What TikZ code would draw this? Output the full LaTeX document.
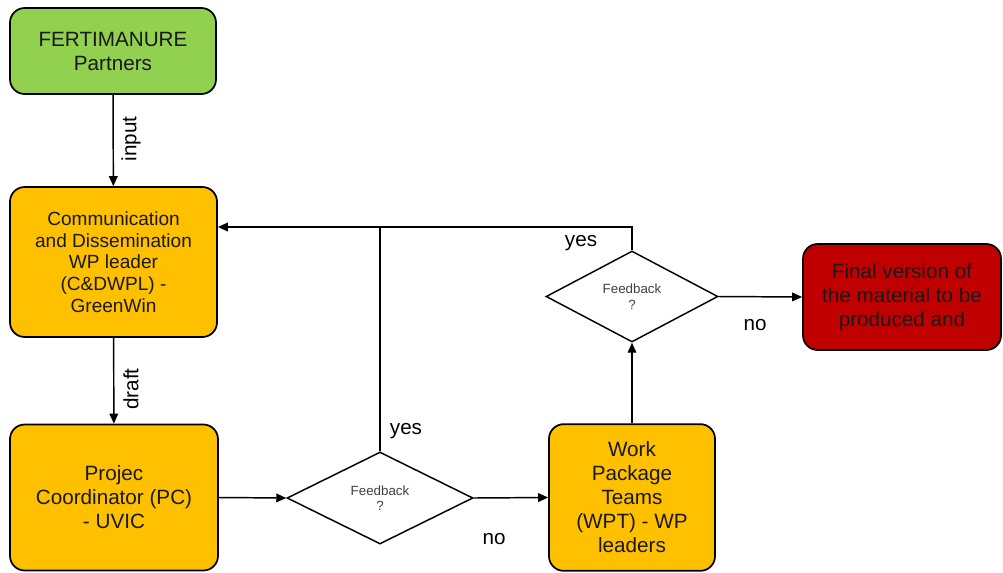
\documentclass[tikz,border=0pt]{standalone}
\usepackage{fontspec}
\setmainfont{Liberation Sans}
\usetikzlibrary{arrows.meta,shapes.geometric}
\definecolor{boxgreen}{HTML}{92D050}
\definecolor{boxorange}{HTML}{FFC000}
\definecolor{boxred}{HTML}{C00000}
\definecolor{txtgray}{HTML}{404040}
\tikzset{
  box/.style={draw=black, line width=1.3pt, rounded corners=11pt, align=center, inner sep=2pt,
    font=\fontsize{15.5}{18}\selectfont, text=black!90},
  dec/.style={draw=black, line width=1.1pt, diamond, inner sep=0pt, align=center,
    font=\fontsize{10}{11.5}\selectfont, text=txtgray},
  conn/.style={line width=1.1pt, draw=black},
  arr/.style={conn, -{Triangle[length=7.5pt,width=6.5pt]}},
  lbl/.style={font=\fontsize{15.5}{18}\selectfont, text=black, inner sep=0pt}
}
\begin{document}
\begin{tikzpicture}[x=0.75pt,y=-0.75pt]
\useasboundingbox (0,0) rectangle (1003,572);
\node[box, fill=boxgreen, minimum width=154.5pt, minimum height=64.5pt] (g) at (113,51) {FERTIMANURE\\Partners};
\node[box, fill=boxorange, minimum width=155.25pt, minimum height=112.5pt,
  font=\fontsize{14.3}{16.3}\selectfont] (cd) at (113.5,262) {Communication\\and Dissemination\\WP leader\\(C\&DWPL) -\\GreenWin};
\node[box, fill=boxorange, minimum width=156pt, minimum height=109.5pt] (pc) at (114,497.5) {Projec\\Coordinator (PC)\\- UVIC};
\node[dec, minimum width=139.5pt, minimum height=69pt] (d1) at (380,498) {Feedback\\?};
\node[box, fill=boxorange, minimum width=124.5pt, minimum height=110pt] (wpt) at (632,497.5) {Work\\Package\\Teams\\(WPT) - WP\\leaders};
\node[dec, minimum width=129pt, minimum height=68.25pt] (d2) at (632,296.5) {Feedback\\?};
\node[box, fill=boxred, minimum width=148.5pt, minimum height=79.5pt] (red) at (902,297) {Final version of\\the material to be\\produced and};
\coordinate (j1) at (380,227);
\draw[arr] (g) -- (cd);
\draw[arr] (cd) -- (pc);
\draw[arr] (pc.east) -- (d1.west);
\draw[arr] (d1.east) -- (wpt.west);
\draw[arr] (d1.north) -- (j1) -- (cd.east |- j1);
\draw[arr] (wpt.north) -- (d2.south);
\draw[conn] (d2.north) |- (j1);
\draw[arr] (d2.east) -- (red.west);
\node[lbl, rotate=90] (linput) at (131,139) {input};
\node[lbl, rotate=90] (ldraft) at (131,389) {draft};
\node[lbl] (lyes1) at (406,431) {yes};
\node[lbl] (lno1) at (494,539) {no};
\node[lbl] (lyes2) at (581,243) {yes};
\node[lbl] (lno2) at (755,325) {no};
\end{tikzpicture}
\end{document}
